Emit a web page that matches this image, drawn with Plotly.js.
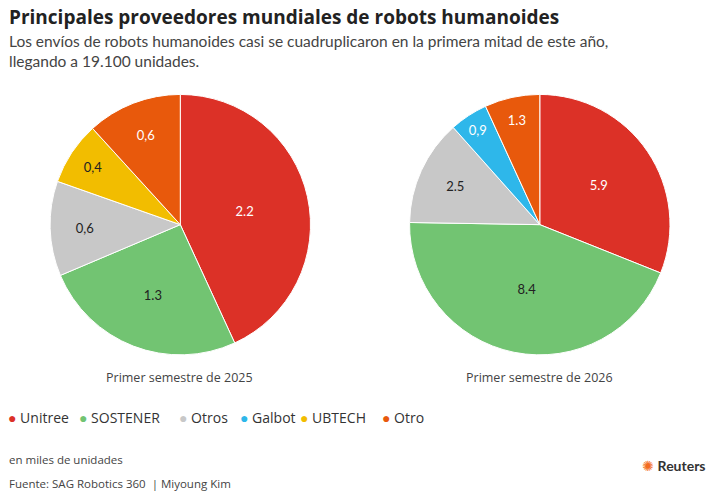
<!DOCTYPE html>
<html><head><meta charset="utf-8">
<script src="https://cdn.plot.ly/plotly-3.0.1.min.js"></script>
<style>body{margin:0}#c{width:714px;height:497px}</style>
</head><body><div id="c"></div>
<script>
const COLORS = { Unitree: "#dc3127", SOSTENER: "#72c472", Otros: "#c8c8c8", Galbot: "#2eb7ea", UBTECH: "#f2bd00", Otro: "#e8590c" };
const TEXTCOL = { Unitree: "#fff", SOSTENER: "#222", Otros: "#222", Galbot: "#fff", UBTECH: "#222", Otro: "#fff" };

const labels2025 = ["Unitree", "SOSTENER", "Otros", "UBTECH", "Otro"];
const values2025 = [2.2, 1.3, 0.6, 0.4, 0.6];
const text2025 = ["2.2", "1.3", "0,6", "0,4", "0,6"];

const labels2026 = ["Unitree", "SOSTENER", "Otros", "Galbot", "Otro"];
const values2026 = [5.9, 8.4, 2.5, 0.9, 1.3];
const text2026 = ["5.9", "8.4", "2.5", "0,9", "1.3"];

const legendItems = ["Unitree", "SOSTENER", "Otros", "Galbot", "UBTECH", "Otro"];

function pie(labels, values, text, x0, x1) {
  return {
    type: "pie", labels, values, text, sort: false, direction: "clockwise", rotation: 0,
    textinfo: "text", textposition: "inside", insidetextorientation: "horizontal",
    textfont: { size: 13, color: labels.map((l) => TEXTCOL[l]) },
    marker: { colors: labels.map((l) => COLORS[l]), line: { color: "#fff", width: 1 } },
    domain: { x: [x0, x1], y: [0.286, 0.81] }, showlegend: false, hoverinfo: "skip",
  };
}

const annotations = [
  { x: 0.01, y: 0.995, text: "<b>Principales proveedores mundiales de robots humanoides</b>", font: { size: 19, color: "#222", family: "Open Sans, sans-serif" } },
  { x: 0.01, y: 0.94, text: "Los envíos de robots humanoides casi se cuadruplicaron en la primera mitad de este año,<br>llegando a 19.100 unidades.", font: { size: 15.5, color: "#444" }, align: "left" },
  { x: 0.252, y: 0.262, xanchor: "center", text: "Primer semestre de 2025", font: { size: 12.5, color: "#444", family: "Open Sans, sans-serif" } },
  { x: 0.756, y: 0.262, xanchor: "center", text: "Primer semestre de 2026", font: { size: 12.5, color: "#444", family: "Open Sans, sans-serif" } },
  { x: 0.01, y: 0.094, text: "en miles de unidades", font: { size: 11.5, color: "#444", family: "Open Sans, sans-serif" } },
  { x: 0.01, y: 0.047, text: "Fuente: SAG Robotics 360  | Miyoung Kim", font: { size: 11.5, color: "#444", family: "Open Sans, sans-serif" } },
  { x: 0.99, y: 0.085, xanchor: "right", text: "<span style='color:#f26b21'>✺</span> <b>Reuters</b>", font: { size: 14, color: "#333" } },
];
const legendX = [0.008, 0.108, 0.248, 0.334, 0.418, 0.532];
legendItems.forEach((l, i) => {
  annotations.push({
    x: legendX[i], y: 0.184, text: `<span style="color:${COLORS[l]}">●</span> ${l}`,
    font: { size: 14, color: "#333", family: "Open Sans, sans-serif" },
  });
});
annotations.forEach((a) => {
  a.xref = "paper"; a.yref = "paper"; a.showarrow = false;
  if (!a.xanchor) a.xanchor = "left";
  a.yanchor = "top";
});

Plotly.newPlot("c", [
  pie(labels2025, values2025, text2025, 0.07, 0.435),
  pie(labels2026, values2026, text2026, 0.573, 0.939),
], {
  width: 714, height: 497, margin: { l: 0, r: 0, t: 0, b: 0 },
  paper_bgcolor: "#fff", font: { family: "Lato, sans-serif" }, annotations,
}, { displayModeBar: false });
</script></body></html>
